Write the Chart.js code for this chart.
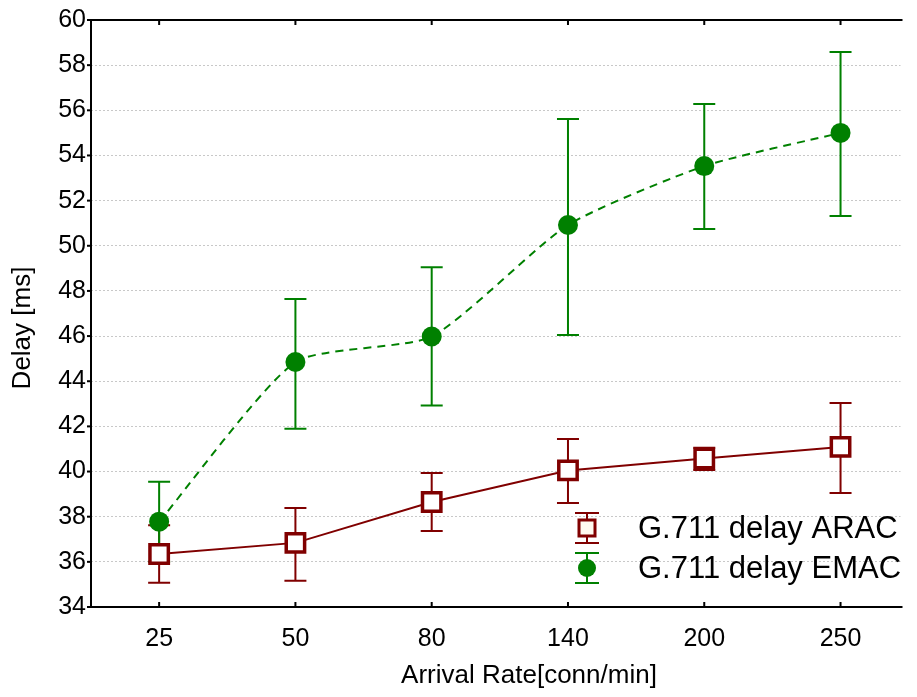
<!DOCTYPE html>
<html>
<head>
<meta charset="utf-8">
<script src="https://cdn.jsdelivr.net/npm/chart.js@4"></script>
<style>
  html, body { margin: 0; padding: 0; background: #fff; }
  #wrap { width: 917px; height: 697px; }
</style>
</head>
<body>
<div id="wrap"><canvas id="delayChart" width="917" height="697"></canvas></div>
<script>
// arrival rates (conn/min)
var categories = ["25", "50", "80", "140", "200", "250"];

// G.711 delay ARAC
var aracMean = [36.35, 36.84, 38.65, 40.05, 40.58, 41.09];
var aracLow  = [35.07, 35.16, 37.37, 38.61, 40.07, 39.05];
var aracHigh = [37.62, 38.39, 39.94, 41.44, 41.05, 43.04];

// G.711 delay EMAC
var emacMean = [37.78, 44.85, 45.98, 50.92, 53.53, 55.00];
var emacLow  = [36.00, 41.89, 42.92, 46.05, 50.74, 51.32];
var emacHigh = [39.55, 47.64, 49.05, 55.62, 56.28, 58.58];

var yTicks = [34, 36, 38, 40, 42, 44, 46, 48, 50, 52, 54, 56, 58, 60];

var xTitle = "Arrival Rate[conn/min]";
var yTitle = "Delay [ms]";

var RED = "#800000";
var GREEN = "#008000";
var FONT = "'Liberation Sans', Arial, sans-serif";

function toPoints(vals) {
    return vals.map(function(v, i) { return { x: i, y: v }; });
}

var errorBars = {
    id: "errorBars",
    beforeDatasetsDraw: function(chart) {
        var ctx = chart.ctx;
        var xs = chart.scales.x, ys = chart.scales.y;
        chart.data.datasets.forEach(function(ds) {
            ctx.save();
            ctx.strokeStyle = ds.borderColor;
            ctx.lineWidth = 2;
            ds.low.forEach(function(lo, i) {
                var px = xs.getPixelForValue(i);
                var pLo = ys.getPixelForValue(lo);
                var pHi = ys.getPixelForValue(ds.high[i]);
                ctx.beginPath();
                ctx.moveTo(px, pLo); ctx.lineTo(px, pHi);
                ctx.moveTo(px - 11, pLo); ctx.lineTo(px + 11, pLo);
                ctx.moveTo(px - 11, pHi); ctx.lineTo(px + 11, pHi);
                ctx.stroke();
            });
            ctx.restore();
        });
    }
};

var frame = {
    id: "frame",
    afterDraw: function(chart) {
        var ctx = chart.ctx, a = chart.chartArea;
        var xs = chart.scales.x, ys = chart.scales.y;
        ctx.save();
        ctx.strokeStyle = "#000";
        ctx.lineWidth = 2;
        ctx.beginPath();
        ctx.moveTo(a.left, a.top); ctx.lineTo(a.right + 2, a.top);
        ctx.moveTo(a.left, a.top); ctx.lineTo(a.left, a.bottom);
        ctx.lineTo(a.right + 2, a.bottom);
        ctx.stroke();
        // inner tick marks on top and bottom
        categories.forEach(function(c, i) {
            var px = xs.getPixelForValue(i);
            ctx.beginPath();
            ctx.moveTo(px, a.top); ctx.lineTo(px, a.top + 5);
            ctx.moveTo(px, a.bottom); ctx.lineTo(px, a.bottom - 5);
            ctx.stroke();
        });
        yTicks.forEach(function(t) {
            var py = ys.getPixelForValue(t);
            ctx.beginPath();
            ctx.moveTo(a.left - 4, py); ctx.lineTo(a.left, py);
            ctx.stroke();
        });

        // axis titles (the original plot is cropped on the right, so centred by hand)
        ctx.fillStyle = "#000";
        ctx.font = "26px " + FONT;
        ctx.textAlign = "center";
        ctx.textBaseline = "middle";
        ctx.fillText(xTitle, 529, 676);
        ctx.save();
        ctx.translate(23, 328);
        ctx.rotate(-Math.PI / 2);
        ctx.fillText(yTitle, 0, 0);
        ctx.restore();

        // legend inside plot, bottom right
        var rows = [528, 568];
        ctx.font = "31px " + FONT;
        chart.data.datasets.forEach(function(ds, k) {
            var lx = 587, ly = rows[k];
            ctx.strokeStyle = ds.borderColor;
            ctx.lineWidth = 2;
            ctx.beginPath();
            ctx.moveTo(lx, ly - 15); ctx.lineTo(lx, ly + 15);
            ctx.moveTo(lx - 12, ly - 15); ctx.lineTo(lx + 12, ly - 15);
            ctx.moveTo(lx - 12, ly + 15); ctx.lineTo(lx + 12, ly + 15);
            ctx.stroke();
            if (ds.pointStyle === "rect") {
                ctx.fillStyle = "#fffaf0";
                ctx.fillRect(lx - 8, ly - 8, 16, 16);
                ctx.lineWidth = 3;
                ctx.strokeRect(lx - 8, ly - 8, 16, 16);
            } else {
                ctx.fillStyle = ds.backgroundColor;
                ctx.beginPath();
                ctx.arc(lx, ly, 9, 0, Math.PI * 2);
                ctx.fill();
            }
            ctx.fillStyle = "#000";
            ctx.textAlign = "left";
            ctx.fillText(ds.label, 638, ly + 1);
        });
        ctx.restore();
    }
};

new Chart(document.getElementById("delayChart"), {
    type: "line",
    data: {
        datasets: [{
            label: "G.711 delay ARAC",
            data: toPoints(aracMean),
            low: aracLow,
            high: aracHigh,
            borderColor: RED,
            backgroundColor: "#ffffff",
            borderWidth: 2,
            pointStyle: "rect",
            pointRadius: 13,
            pointBorderWidth: 3.5,
            tension: 0
        }, {
            label: "G.711 delay EMAC",
            data: toPoints(emacMean),
            low: emacLow,
            high: emacHigh,
            borderColor: GREEN,
            backgroundColor: GREEN,
            borderWidth: 2,
            borderDash: [8, 6],
            pointStyle: "circle",
            pointRadius: 10,
            pointBorderWidth: 0,
            tension: 0.2
        }]
    },
    options: {
        responsive: false,
        animation: false,
        layout: { padding: { top: 20, right: 1, left: 0, bottom: 0 } },
        plugins: { legend: { display: false }, tooltip: { enabled: false } },
        scales: {
            x: {
                type: "linear",
                min: -0.5,
                max: 5.44,
                afterBuildTicks: function(axis) {
                    axis.ticks = categories.map(function(c, i) { return { value: i }; });
                },
                afterFit: function(axis) { axis.height = 90; },
                grid: { display: false, drawTicks: false },
                border: { display: false },
                ticks: {
                    color: "#000",
                    font: { family: FONT, size: 25 },
                    padding: 17,
                    maxRotation: 0,
                    callback: function(v) { return categories[v]; }
                }
            },
            y: {
                min: 34,
                max: 60,
                afterBuildTicks: function(axis) {
                    axis.ticks = yTicks.map(function(t) { return { value: t }; });
                },
                afterFit: function(axis) { axis.width = 91; },
                grid: {
                    color: "#c8c8c8",
                    lineWidth: 1,
                    drawTicks: false
                },
                border: { display: false, dash: [2, 2] },
                ticks: {
                    color: "#000",
                    font: { family: FONT, size: 25 },
                    padding: 5
                }
            }
        }
    },
    plugins: [errorBars, frame]
});
</script>
</body>
</html>
